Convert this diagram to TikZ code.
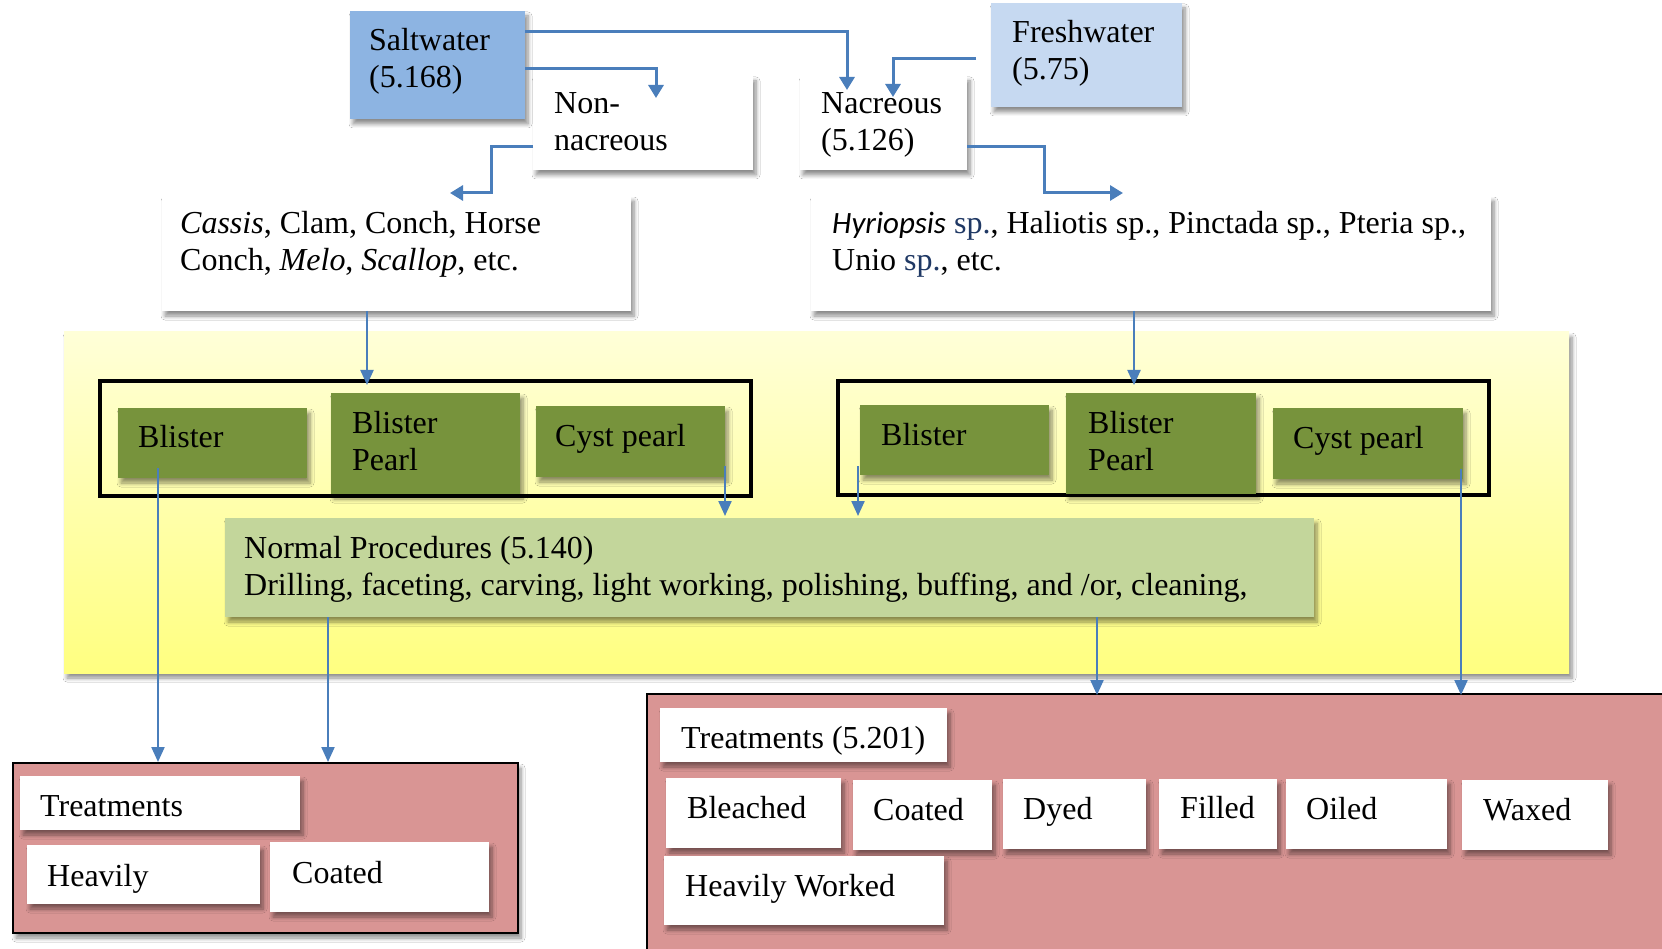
\documentclass[tikz,border=0pt]{standalone}
\usepackage{fontspec}
\setmainfont{Liberation Serif}
\newfontfamily\calib{Carlito}
\usetikzlibrary{arrows.meta,calc,shadows,shadows.blur}
\definecolor{saltc}{HTML}{8DB4E2}
\definecolor{freshc}{HTML}{C6D9F1}
\definecolor{greenc}{HTML}{77933C}
\definecolor{normc}{HTML}{C3D69B}
\definecolor{redc}{HTML}{D99594}
\definecolor{yelA}{HTML}{FFFFD8}
\definecolor{yelB}{HTML}{FFFF80}
\definecolor{arrc}{HTML}{4A7EBB}
\definecolor{navy}{HTML}{1F3864}
\newcommand\bxx[6]{\node[bx,fill=#6,minimum width={#4-#2},minimum height={#5-#3}] (#1) at (#2,#3) {};}
\begin{document}
\begin{tikzpicture}[x=1pt,y=-1pt,
  bx/.style={draw=none, inner sep=0, outer sep=0, anchor=north west,
    blur shadow={shadow xshift=3pt, shadow yshift=-5pt, shadow blur steps=6, shadow blur radius=4pt, shadow opacity=45}},
  framebx/.style={draw=black, line width=3.5pt, inner sep=0, outer sep=0, anchor=north west, fill=none},
  txt/.style={inner sep=0, anchor=base west, align=left, font=\fontsize{32}{37}\selectfont},
  arr/.style={draw=arrc, line width=3pt, -{Triangle[length=13pt,width=15pt]}},
  arrb/.style={draw=arrc, line width=2.2pt, -{Triangle[length=15pt,width=13pt]}}]
\useasboundingbox (0,0) rectangle (1662,949);
\fill[white] (0,0) rectangle (1662,949);
% yellow area
\node[bx, top color=yelA, bottom color=yelB, minimum width=1505, minimum height=341] (yel) at (64,332) {};
% top boxes
\bxx{salt}{350}{11}{525}{119}{saltc}
\bxx{fresh}{991}{3}{1182}{107}{freshc}
\bxx{nonnac}{533}{76}{753}{170}{white}
\bxx{nac}{800}{76}{967}{170}{white}
\bxx{cassis}{162}{196}{631}{311}{white}
\bxx{hyri}{811}{196}{1491}{311}{white}
% frames
\node[framebx, minimum width=651, minimum height=115] (frameL) at (100,381) {};
\node[framebx, minimum width=651, minimum height=114] (frameR) at (838,381) {};
% green boxes
\bxx{gLa}{118}{408}{307}{478}{greenc}
\bxx{gLb}{331}{393}{520}{494}{greenc}
\bxx{gLc}{536}{406}{725}{477}{greenc}
\bxx{gRa}{860}{405}{1049}{475}{greenc}
\bxx{gRb}{1066}{393}{1256}{494}{greenc}
\bxx{gRc}{1273}{408}{1463}{479}{greenc}
\bxx{normal}{225}{518}{1314}{617}{normc}
% red areas
\node[bx, fill=redc, draw=black, line width=1.2pt, minimum width=505, minimum height=170] (redL) at (13,763) {};
\node[bx, fill=redc, draw=black, line width=1.2pt, minimum width=1020, minimum height=260] (redR) at (647,694) {};
% treatment boxes
\bxx{tL}{20}{776}{300}{830}{white}
\bxx{hL}{27}{845}{260}{904}{white}
\bxx{cL}{270}{842}{489}{912}{white}
\bxx{tR}{660}{708}{947}{762}{white}
\bxx{bl}{666}{778}{841}{848}{white}
\bxx{co}{853}{780}{992}{850}{white}
\bxx{dy}{1003}{779}{1146}{849}{white}
\bxx{fi}{1159}{779}{1277}{849}{white}
\bxx{oi}{1286}{779}{1447}{849}{white}
\bxx{wa}{1462}{780}{1608}{850}{white}
\bxx{hw}{664}{856}{944}{925}{white}
% texts (base = baseline of last line)
\node[txt] (tsalt) at (369,88) {Saltwater\\(5.168)};
\node[txt] (tfresh) at (1012,80) {Freshwater\\(5.75)};
\node[txt] (tnonnac) at (554,151) {Non-\\nacreous};
\node[txt] (tnac) at (821,151) {Nacreous\\(5.126)};
\node[txt] (tcassis) at (180,271) {\textit{Cassis}, Clam, Conch, Horse\\Conch, \textit{Melo}, \textit{Scallop}, etc.};
\node[txt] (thyri) at (832,271) {{\calib\itshape\fontsize{31}{37}\selectfont Hyriopsis} \textcolor{navy}{sp.}, Haliotis sp., Pinctada sp., Pteria sp.,\\Unio \textcolor{navy}{sp.}, etc.};
\node[txt] (tgLa) at (138,447) {Blister};
\node[txt] (tgLb) at (352,470) {Blister\\Pearl};
\node[txt] (tgLc) at (555,446) {Cyst pearl};
\node[txt] (tgRa) at (881,445) {Blister};
\node[txt] (tgRb) at (1088,470) {Blister\\Pearl};
\node[txt] (tgRc) at (1293,448) {Cyst pearl};
\node[txt] (tnormal) at (244,595) {Normal Procedures (5.140)\\Drilling, faceting, carving, light working, polishing, buffing, and /or, cleaning,};
\node[txt] (ttL) at (40,816) {Treatments};
\node[txt] (thL) at (47,886) {Heavily};
\node[txt] (tcL) at (292,883) {Coated};
\node[txt] (ttR) at (681,748) {Treatments (5.201)};
\node[txt] (tbl) at (687,818) {Bleached};
\node[txt] (tco) at (873,820) {Coated};
\node[txt] (tdy) at (1023,819) {Dyed};
\node[txt] (tfi) at (1180,818) {Filled};
\node[txt] (toi) at (1306,819) {Oiled};
\node[txt] (twa) at (1483,820) {Waxed};
\node[txt] (thw) at (685,896) {Heavily Worked};
% connectors
\draw[arr] ($(salt.north east)+(0,21)$) -| ($(nac.north west)+(47,14)$);
\draw[arr] ($(salt.north east)+(0,58)$) -| ($(nonnac.north west)+(123,22)$);
\draw[arr] ($(fresh.north west)+(-15,56)$) -| ($(nac.north west)+(93,21)$);
\draw[arr] ($(nonnac.north west)+(0,71)$) -- ++(-42,0) |- ($(cassis.north west)+(288,-3)$);
\draw[arr] ($(nac.north east)+(0,71)$) -- ++(77,0) |- ($(hyri.north west)+(312,-3)$);
\draw[arrb] ($(cassis.south west)+(205,0)$) -- ($(frameL.north west)+(267,4)$);
\draw[arrb] ($(hyri.south west)+(323,0)$) -- ($(frameR.north west)+(296,4)$);
\draw[arrb] ($(gLc.south east)+(0,-11)$) -- ($(normal.north west)+(500,-2)$);
\draw[arrb] ($(gRa.south west)+(-2,-9)$) -- ($(normal.north west)+(633,-2)$);
\draw[arrb] ($(gLa.south west)+(40,-10)$) -- ($(redL.north west)+(145,-1)$);
\draw[arrb] ($(normal.south west)+(103,0)$) -- ($(redL.north west)+(315,-1)$);
\draw[arrb] ($(normal.south west)+(872,0)$) -- ($(redR.north west)+(450,1)$);
\draw[arrb] ($(gRc.south east)+(-2,-10)$) -- ($(redR.north west)+(814,1)$);
\end{tikzpicture}
\end{document}
